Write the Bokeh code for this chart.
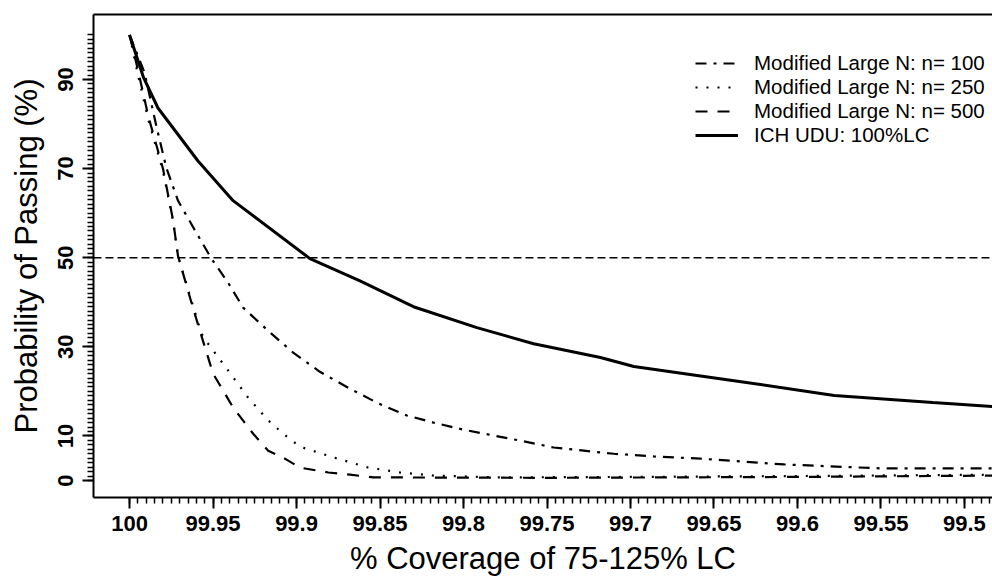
from bokeh.plotting import figure
from bokeh.models import (Range1d, FixedTicker, LinearAxis, Span, Legend, LegendItem,
                          CustomJSTickFormatter)
from bokeh.embed import file_html
from bokeh.resources import INLINE

# % coverage of 75-125% LC (x) and probability of passing in % (y)
ich_x = [100.0, 99.9916, 99.983, 99.959, 99.938, 99.892, 99.862, 99.830, 99.792,
         99.758, 99.718, 99.698, 99.638, 99.578, 99.519, 99.483]
ich_y = [100.0, 90.4, 83.6, 71.7, 62.8, 49.8, 44.8, 39.0, 34.3,
         30.7, 27.6, 25.6, 22.4, 19.1, 17.5, 16.6]

n100_x = [100.0, 99.991, 99.984, 99.978, 99.971, 99.960, 99.951, 99.941, 99.932,
          99.917, 99.902, 99.886, 99.868, 99.851, 99.834, 99.818, 99.800, 99.782,
          99.764, 99.746, 99.728, 99.710, 99.686, 99.658, 99.608, 99.549, 99.483]
n100_y = [100.0, 91.5, 79.6, 70.2, 62.8, 55.6, 49.8, 44.4, 38.8,
          33.6, 28.7, 24.4, 20.6, 17.3, 14.6, 13.0, 11.4, 10.1,
          8.8, 7.4, 6.7, 6.0, 5.4, 4.9, 3.6, 2.7, 2.7]

n250_x = [100.0, 99.9946, 99.9886, 99.980, 99.974, 99.971, 99.963, 99.957, 99.953,
          99.941, 99.929, 99.917, 99.908, 99.898, 99.878, 99.857, 99.838, 99.818,
          99.778, 99.70, 99.60, 99.483]
n250_y = [100.0, 90.4, 80.7, 69.5, 58.3, 50.4, 40.4, 33.0, 30.7,
          24.7, 18.6, 13.5, 10.5, 7.6, 5.2, 2.9, 1.8, 1.1,
          0.7, 0.8, 1.0, 1.3]

n500_x = [100.0, 99.9946, 99.9886, 99.980, 99.974, 99.971, 99.963, 99.957, 99.950,
          99.938, 99.926, 99.917, 99.907, 99.898, 99.881, 99.868, 99.854, 99.75,
          99.60, 99.483]
n500_y = [100.0, 91.5, 81.5, 70.0, 58.5, 50.4, 40.0, 32.5, 24.0,
          16.4, 10.5, 6.7, 4.9, 2.9, 1.8, 1.3, 0.7, 0.6,
          0.8, 1.1]

x_major = [100.0, 99.95, 99.9, 99.85, 99.8, 99.75, 99.7, 99.65, 99.6, 99.55, 99.5]
x_minor = [round(100.0 - 0.005 * i, 3) for i in range(0, 104)]
y_major = [0, 10, 30, 50, 70, 90]
y_minor = list(range(0, 101))

legend_labels = ["Modified Large N: n= 100", "Modified Large N: n= 250",
                 "Modified Large N: n= 500", "ICH UDU: 100%LC"]

FONT = "Liberation Sans"

p = figure(width=992, height=579, output_backend="svg", toolbar_location=None,
           x_range=Range1d(100.0216, 99.4832), y_range=Range1d(-3.815, 104.58),
           min_border_left=93, min_border_right=0, min_border_top=14,
           min_border_bottom=82, x_axis_type=None, y_axis_type=None)
p.grid.visible = False
p.outline_line_color = None
p.background_fill_color = "white"
p.border_fill_color = "white"

fmt = CustomJSTickFormatter(code="return String(parseFloat(tick.toFixed(4)));")

xaxis = LinearAxis(ticker=FixedTicker(ticks=x_major, minor_ticks=x_minor),
                   formatter=fmt, axis_label="% Coverage of 75-125% LC")
yaxis = LinearAxis(ticker=FixedTicker(ticks=y_major, minor_ticks=y_minor),
                   axis_label="Probability of Passing (%)")
for ax in (xaxis, yaxis):
    ax.axis_line_width = 2
    ax.major_tick_line_width = 2
    ax.minor_tick_line_width = 1.5
    ax.major_tick_in = 0
    ax.minor_tick_in = 0
    ax.major_tick_out = 11
    ax.minor_tick_out = 6
    ax.major_label_text_font = FONT
    ax.major_label_text_font_style = "bold"
    ax.major_label_text_font_size = "22px"
    ax.major_label_text_color = "black"
    ax.axis_label_text_font = FONT
    ax.axis_label_text_font_style = "normal"
    ax.axis_label_text_font_size = "31px"
    ax.axis_label_text_color = "black"
xaxis.major_label_standoff = 7
xaxis.axis_label_standoff = 7
yaxis.major_label_standoff = 9
yaxis.axis_label_standoff = 12
yaxis.major_label_orientation = "vertical"
p.add_layout(xaxis, "below")
p.add_layout(yaxis, "left")

# plain frame line along the top
top = LinearAxis(ticker=FixedTicker(ticks=[]), axis_line_width=2,
                 major_tick_out=0, minor_tick_out=0, major_label_standoff=0,
                 major_label_text_font_size="0px")
p.add_layout(top, "above")

p.add_layout(Span(location=50, dimension="width", line_color="black",
                  line_width=1.5, line_dash="8 4"))

r100 = p.line(n100_x, n100_y, line_color="black", line_width=2.2, line_dash="11 7 3 7")
r250 = p.line(n250_x, n250_y, line_color="black", line_width=2.2, line_dash="2 9")
r500 = p.line(n500_x, n500_y, line_color="black", line_width=2.2, line_dash="12 10")
rich = p.line(ich_x, ich_y, line_color="black", line_width=3)

legend = Legend(items=[LegendItem(label=legend_labels[0], renderers=[r100]),
                       LegendItem(label=legend_labels[1], renderers=[r250]),
                       LegendItem(label=legend_labels[2], renderers=[r500]),
                       LegendItem(label=legend_labels[3], renderers=[rich])],
                location=(602, 350), orientation="vertical",
                glyph_width=43, glyph_height=24, label_height=24, spacing=0,
                padding=0, margin=0, label_standoff=16,
                label_text_font=FONT, label_text_font_size="20.5px",
                label_text_color="black",
                border_line_color=None, background_fill_alpha=0)
p.add_layout(legend, "center")

open("out.html", "w").write(file_html(p, INLINE))
